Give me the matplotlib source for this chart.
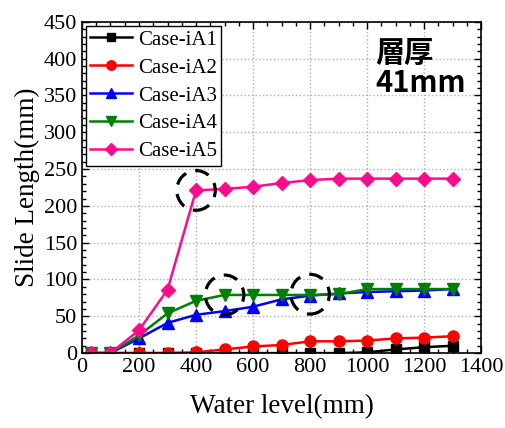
import numpy as np
import matplotlib.pyplot as plt
from matplotlib.patches import Ellipse
from matplotlib.ticker import MultipleLocator

water = [30, 100, 200, 300, 400, 500, 600, 700, 800, 900, 1000, 1100, 1200, 1300]
iA1 = [0, 0, 0, 0, 0, 0, 0, 0, 0, 0, 1, 5, 8, 10]
iA2 = [0, 0, 0, 0, 1, 5, 9, 11, 16, 16, 17, 20, 21, 23]
iA3 = [0, 0, 20, 41, 52, 57, 63, 73, 78, 81, 83, 84, 85, 87]
iA4 = [0, 0, 24, 54, 71, 79, 79, 79, 79, 80, 87, 87, 87, 87]
iA5 = [0, 0, 31, 86, 221, 223, 226, 231, 235, 237, 237, 237, 237, 237]

names = ['Case-iA1', 'Case-iA2', 'Case-iA3', 'Case-iA4', 'Case-iA5']
series = [iA1, iA2, iA3, iA4, iA5]
colors = ['black', 'red', 'blue', 'green', '#ff0a8c']
markers = ['s', 'o', '^', 'v', 'D']
msizes = [7, 8, 8, 8, 7]

# dashed circles around points of interest (x, y)
circles = [(400, 221), (500, 79), (800, 80)]

plt.rcParams['font.family'] = ['Liberation Serif', 'DejaVu Serif']

fig = plt.figure(figsize=(5.06, 4.28), dpi=100)
ax = fig.add_axes([0.162, 0.175, 0.789, 0.774])

for vals, nm, c, m, ms in zip(series, names, colors, markers, msizes):
    ax.plot(water, vals, color=c, marker=m, markersize=ms, linewidth=1.8, label=nm)

for cx, cy in circles:
    ax.add_patch(Ellipse((cx, cy), 135, 54, fill=False, edgecolor='black',
                         linestyle=(0, (4.5, 3)), linewidth=2.3, zorder=5))

ax.set_xlim(0, 1400)
ax.set_ylim(0, 450)
ax.xaxis.set_major_locator(MultipleLocator(200))
ax.xaxis.set_minor_locator(MultipleLocator(50))
ax.yaxis.set_major_locator(MultipleLocator(50))
ax.yaxis.set_minor_locator(MultipleLocator(10))
ax.tick_params(which='both', direction='in', top=True, right=True, labelsize=16)
ax.tick_params(which='major', length=5, width=1)
ax.tick_params(which='minor', length=3, width=1)
ax.grid(True, which='major', linestyle=':', color='#b0b0b0', linewidth=1)
for s in ax.spines.values():
    s.set_linewidth(1.2)

ax.set_xlabel('Water level(mm)', fontsize=19.5, labelpad=12)
ax.set_ylabel('Slide Length(mm)', fontsize=19.5, labelpad=3)

leg = ax.legend(loc='upper left', fontsize=15, fancybox=False, edgecolor='black',
                framealpha=1, borderaxespad=0.2, handlelength=2.0, handletextpad=0.3,
                labelspacing=0.4, borderpad=0.2, markerscale=0.85)
leg.get_frame().set_linewidth(1)

ax.text(0.735, 0.95, '層厚\n41mm', transform=ax.transAxes, fontsize=21,
        fontweight='bold', family=['Noto Sans CJK JP', 'DejaVu Sans'],
        va='top', ha='left', linespacing=1.0)

fig.savefig('out.png', dpi=100)
